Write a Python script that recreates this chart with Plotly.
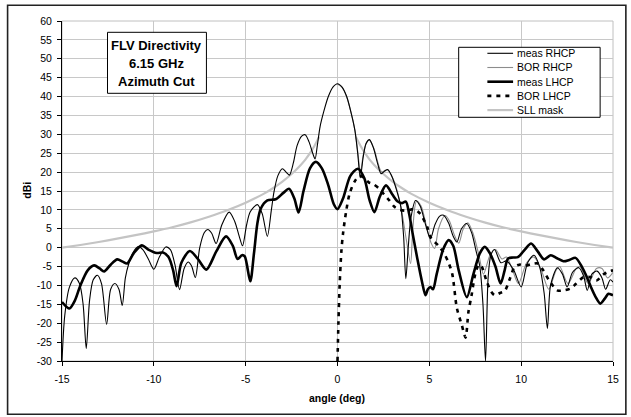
import plotly.graph_objects as go

# ---------------- data ----------------
meas_rhcp_ang = [-15.0, -14.85, -14.6, -14.3, -14.05, -13.85, -13.68, -13.5, -13.3, -13.07, -12.85, -12.57,
                 -12.35, -12.12, -11.9, -11.72, -11.55, -11.36, -11.1, -10.85, -10.6, -10.3, -10.0, -9.7,
                 -9.35, -9.1, -8.85, -8.6, -8.35, -8.13, -7.95, -7.74, -7.5, -7.25, -7.06, -6.85, -6.61,
                 -6.3, -5.9, -5.6, -5.35, -5.17, -4.95, -4.75, -4.36, -4.1, -3.82, -3.6, -3.46, -3.25,
                 -3.0, -2.8, -2.62, -2.4, -2.2, -1.95, -1.76, -1.55, -1.35, -1.22, -1.1, -0.95, -0.75,
                 -0.5, -0.25, 0.0, 0.25, 0.5, 0.75, 0.95, 1.1, 1.24, 1.4, 1.55, 1.74, 1.95, 2.2, 2.37,
                 2.55, 2.73, 2.95, 3.2, 3.45, 3.6, 3.72, 3.85, 4.0, 4.25, 4.5, 4.8, 5.06, 5.3, 5.55,
                 5.78, 6.05, 6.3, 6.5, 6.75, 7.04, 7.3, 7.55, 7.75, 7.92, 8.06, 8.2, 8.35, 8.55, 8.9,
                 9.2, 9.6, 10.0, 10.35, 10.7, 11.0, 11.25, 11.43, 11.6, 11.97, 12.25, 12.5, 12.8, 13.14,
                 13.4, 13.6, 13.85, 14.13, 14.4, 14.6, 14.85, 15.0]
meas_rhcp_dbi = [-30, -18, -10.5, -8.0, -9.5, -15, -26.7, -14, -8.5, -7.3, -9.5, -20.3,
                 -11, -9.5, -11, -15.3, -8, -4.2, -1, 0.3, -0.5, -3, -5.7, -2.5,
                 0.2, -0.5, -4.5, -11.1, -5.5, -3.8, -4.8, -7.9, 0, 4, 4.8, 3.8, 1.1,
                 6, 9.4, 7, 3, 0.5, 6, 9.5, 11.4, 9, 3.0, 10, 14.7, 19,
                 20.9, 20, 19.2, 22.5, 27, 29.5, 29.9, 28, 25, 23.5, 27, 32, 36,
                 40, 42.5, 43.4, 42.5, 40, 35.5, 31, 25, 18.5, 24, 27.5, 28.6, 26.5, 22, 19.6,
                 20.2, 20.7, 19, 15.5, 10.8, 3, -8.2, 0, 8, 12.5, 11, 6, 2.4, 6, 8.3,
                 8.6, 6.5, 3, 1.5, 5, 6.4, 4, -1, -5, -15, -30, -8, -2, -0.5, -4,
                 -3.5, -6, -10.4, -4, -2.0, -5, -12, -21.4, -10, -5.3, -7, -10.4, -6.5, -5.3,
                 -7.5, -11.3, -7, -6.2, -8, -11, -8.5, -9.1]

bor_rhcp_ang = [0.0, 0.25, 0.5, 0.75, 0.95, 1.1, 1.25, 1.4, 1.6, 1.75, 2.0, 2.2, 2.4, 2.6, 2.75,
                3.0, 3.25, 3.5, 3.75, 3.98, 4.1, 4.3, 4.55, 4.85, 5.1, 5.29, 5.5, 5.85, 6.1, 6.35,
                6.6, 6.85, 7.1, 7.4, 7.7, 7.95, 8.3, 8.6, 8.95, 9.2, 9.5, 9.85, 10.3, 10.7, 11.1,
                11.5, 11.9, 12.1, 12.55, 13.0, 13.2, 13.65, 14.1, 14.4, 14.7, 15.0]
bor_rhcp_dbi = [43.3, 42.4, 39.9, 35.6, 31, 25.5, 20, 24.5, 28, 28.4, 26, 22.5, 20, 20.5, 20.5,
                18.5, 15, 9.5, 2, -4.2, 5, 12.3, 11, 5.5, 1.2, -0.2, 5, 8.5, 7, 3.5,
                1.2, 5, 6.6, 3.5, -2, -7, -2, -0.5, -3, -2.5, -5.5, -9.5, -4, -2.5, -6,
                -11, -6, -5, -9.5, -5.5, -5, -9.5, -5.5, -5.5, -8, -6.5]

meas_lhcp_ang = [-15.0, -14.6, -14.3, -14.0, -13.6, -13.25, -12.95, -12.71, -12.35, -11.99, -11.7,
                 -11.45, -11.1, -10.65, -10.3, -9.84, -9.5, -9.2, -8.95, -8.76, -8.5, -8.04, -7.6,
                 -7.14, -6.6, -6.07, -5.7, -5.44, -5.2, -5.05, -4.75, -4.55, -4.36, -4.18, -3.82,
                 -3.37, -2.95, -2.64, -2.35, -2.12, -1.85, -1.5, -1.18, -0.85, -0.5, -0.2, 0.0, 0.3,
                 0.7, 1.11, 1.45, 1.75, 2.01, 2.3, 2.64, 3.0, 3.26, 3.5, 3.72, 3.9, 4.1, 4.35, 4.6,
                 4.79, 4.92, 5.06, 5.2, 5.4, 5.75, 6.05, 6.3, 6.6, 7.04, 7.4, 7.75, 8.02, 8.3, 8.6,
                 8.88, 9.1, 9.28, 9.55, 9.82, 10.2, 10.54, 10.9, 11.25, 11.61, 11.95, 12.3, 12.65,
                 12.96, 13.3, 13.55, 13.78, 14.05, 14.31, 14.55, 14.75, 14.9, 15.0]
meas_lhcp_dbi = [-14.4, -16.1, -14, -10, -6, -4.7, -5.5, -6.3, -4.5, -3.1, -3.7,
                 -4.2, -1.5, 0.6, -0.5, -1.4, -1.3, -2.5, -6, -10.2, -4, -0.9, -3,
                 -5.8, -1, 3.0, 0.5, -3.0, -2.0, -2.3, -8.9, -1.6, 6.5, 10.3, 12.5,
                 12.8, 14.5, 15.6, 13, 9.3, 15, 21, 22.7, 21, 16.5, 11.5, 10.2, 13,
                 19, 20.9, 18.5, 12.5, 9.4, 13.5, 16.5, 14, 12.3, 11.8, 12.2, 9, 3.5, -3, -9,
                 -12.6, -11, -10.4, -11, -7, -0.5, 2.0, 0.5, -6, -13.1, -7, -1.5, 0.2, -1.5, -5,
                 -9.5, -6, -2.9, -2.6, -2.5, -0.5, 1.1, -1, -3.1, -2.0, -2.8, -3.6, -3.2,
                 -2.7, -5, -7.5, -10.2, -13, -14.8, -13.5, -12.2, -12.4, -12.6]

bor_lhcp_ang = [0.0, 0.05, 0.12, 0.21, 0.3, 0.48, 0.66, 0.93, 1.2, 1.45, 1.7, 1.95, 2.28, 2.55,
                2.82, 3.1, 3.4, 3.75, 4.15, 4.5, 4.88, 5.1, 5.5, 5.8, 6.05, 6.25, 6.5, 6.77, 6.97,
                7.13, 7.3, 7.5, 7.7, 7.85, 8.1, 8.35, 8.56, 8.85, 9.1, 9.4, 9.64, 9.9, 10.2, 10.6,
                10.9, 11.2, 11.5, 11.97, 12.3, 12.69, 13.0, 13.4, 13.76, 14.1, 14.5, 14.85, 15.0]
bor_lhcp_dbi = [-30, -20, -9.5, -1, 3.7, 9.9, 14.3, 17.5, 19, 18.5, 17.3, 16.8, 15.6, 14,
                12.5, 10.8, 10, 9.8, 10.2, 9, 5.5, 2.5, 0.5, -1.5, -4, -7, -16, -20.5, -23.8,
                -17, -12.6, -7, -4.5, -5, -8.6, -11.5, -12.6, -12, -11.5, -8, -5.1, -4.5, -4.8, -4.3,
                -4.2, -6, -8.5, -11.3, -11.3, -10.8, -9.5, -7.8, -7.8, -8.7, -7, -6.2, -6]

sll_ang = [-15, -14, -13, -12, -11, -10, -9, -8, -7, -6, -5, -4, -3.5, -3, -2.5, -2, -1.75, -1.5,
           -1.25, -1, None, 1, 1.25, 1.5, 1.75, 2, 2.5, 3, 3.5, 4, 5, 6, 7, 8, 9, 10, 11, 12, 13,
           14, 15]
sll_dbi = [0, 0.7, 1.5, 2.4, 3.3, 4.3, 5.4, 6.7, 8.2, 9.9, 11.9, 14.3, 15.8, 17.5, 19.5, 21.9, 23.3,
           25, 27, 29.3, None, 29.3, 27, 25, 23.3, 21.9, 19.5, 17.5, 15.8, 14.3, 11.9, 9.9, 8.2,
           6.7, 5.4, 4.3, 3.3, 2.4, 1.5, 0.7, 0]

legend_names = ["meas RHCP", "BOR RHCP", "meas LHCP", "BOR LHCP", "SLL mask"]
title_lines = ["FLV Directivity", "6.15 GHz", "Azimuth Cut"]
x_ticks = [-15, -10, -5, 0, 5, 10, 15]
y_ticks = list(range(-30, 61, 5))

# ---------------- styling / layout ----------------
FONT = "Liberation Sans, Arial, sans-serif"
W, H = 631, 417
PL, PR, PT, PB = 62, 619, 20.7, 360.7   # plot area in px


def px(xp):
    return (xp - PL) / (PR - PL)


def py(yp):
    return (PB - yp) / (PB - PT)


styles = {
    "meas RHCP": dict(color="black", width=1.1),
    "BOR RHCP": dict(color="#8c8c8c", width=1.1),
    "meas LHCP": dict(color="black", width=2.6),
    "BOR LHCP": dict(color="black", width=2.6, dash="4px,5px"),
    "SLL mask": dict(color="#c4c4c4", width=2.2),
}

fig = go.Figure()
fig.add_trace(go.Scatter(x=sll_ang, y=sll_dbi, mode="lines", name="SLL mask",
                         line=dict(**styles["SLL mask"], shape="spline", smoothing=0.6),
                         connectgaps=False))
fig.add_trace(go.Scatter(x=bor_rhcp_ang, y=bor_rhcp_dbi, mode="lines", name="BOR RHCP",
                         line=dict(**styles["BOR RHCP"], shape="spline", smoothing=0.8)))
fig.add_trace(go.Scatter(x=meas_rhcp_ang, y=meas_rhcp_dbi, mode="lines", name="meas RHCP",
                         line=dict(**styles["meas RHCP"], shape="spline", smoothing=0.8)))
fig.add_trace(go.Scatter(x=bor_lhcp_ang, y=bor_lhcp_dbi, mode="lines", name="BOR LHCP",
                         line=dict(**styles["BOR LHCP"], shape="spline", smoothing=0.8)))
fig.add_trace(go.Scatter(x=meas_lhcp_ang, y=meas_lhcp_dbi, mode="lines", name="meas LHCP",
                         line=dict(**styles["meas LHCP"], shape="spline", smoothing=0.8)))

shapes = []
annotations = []

# outer chart frame
shapes.append(dict(type="rect", xref="paper", yref="paper", layer="above",
                   x0=px(7), x1=px(632), y0=py(414), y1=py(5),
                   line=dict(color="#222222", width=1.6)))
# plot-area border (grey top/right)
shapes.append(dict(type="rect", xref="paper", yref="paper", layer="below",
                   x0=0, x1=1, y0=0, y1=1, line=dict(color="#c0c0c0", width=1)))

# title box
shapes.append(dict(type="rect", xref="paper", yref="paper", layer="above",
                   x0=px(108), x1=px(208), y0=py(93), y1=py(32),
                   fillcolor="white", line=dict(color="black", width=1)))
for i, t in enumerate(title_lines):
    annotations.append(dict(text="<b>%s</b>" % t, xref="paper", yref="paper",
                            x=px(158), y=py(45 + 18 * i), xanchor="center", yanchor="middle",
                            showarrow=False, font=dict(family=FONT, size=13, color="black")))

# legend box
shapes.append(dict(type="rect", xref="paper", yref="paper", layer="above",
                   x0=px(463), x1=px(606), y0=py(117), y1=py(47),
                   fillcolor="white", line=dict(color="black", width=1)))
for i, name in enumerate(legend_names):
    yy = 53 + 14.2 * i
    st = styles[name]
    shapes.append(dict(type="line", xref="paper", yref="paper", layer="above",
                       x0=px(492), x1=px(518), y0=py(yy), y1=py(yy),
                       line=dict(color=st["color"], width=st["width"],
                                 dash=st.get("dash", "solid"))))
    annotations.append(dict(text=name, xref="paper", yref="paper",
                            x=px(520), y=py(yy), xanchor="left", yanchor="middle",
                            showarrow=False, font=dict(family=FONT, size=10.5, color="black")))

# axis titles
annotations.append(dict(text="<b>dBi</b>", xref="paper", yref="paper", x=px(27), y=py(190),
                        xanchor="center", yanchor="middle", textangle=-90, showarrow=False,
                        font=dict(family=FONT, size=10.5, color="black")))
annotations.append(dict(text="<b>angle (deg)</b>", xref="paper", yref="paper", x=px(340), y=py(398),
                        xanchor="center", yanchor="middle", showarrow=False,
                        font=dict(family=FONT, size=10.5, color="black")))

fig.update_layout(
    width=W, height=H,
    margin=dict(l=PL, r=W - PR, t=PT, b=H - PB, pad=0),
    paper_bgcolor="white", plot_bgcolor="white",
    showlegend=False,
    font=dict(family=FONT, size=10.5, color="black"),
    shapes=shapes, annotations=annotations,
)
fig.update_xaxes(range=[-15, 15], tickvals=x_ticks, ticktext=[str(v) for v in x_ticks],
                 showgrid=True, gridcolor="#c8c8c8", gridwidth=1, zeroline=False,
                 showline=True, linecolor="black", linewidth=1, mirror=False,
                 ticks="outside", ticklen=4, tickcolor="black", tickwidth=1,
                 ticklabelstandoff=4, tickfont=dict(family=FONT, size=10.5))
fig.update_yaxes(range=[-30, 60], tickvals=y_ticks, ticktext=[str(v) for v in y_ticks],
                 showgrid=True, gridcolor="#c8c8c8", gridwidth=1, zeroline=False,
                 showline=True, linecolor="black", linewidth=1, mirror=False,
                 ticks="outside", ticklen=4, tickcolor="black", tickwidth=1,
                 ticklabelstandoff=3, tickfont=dict(family=FONT, size=10.5))

fig.write_html("out.html")
